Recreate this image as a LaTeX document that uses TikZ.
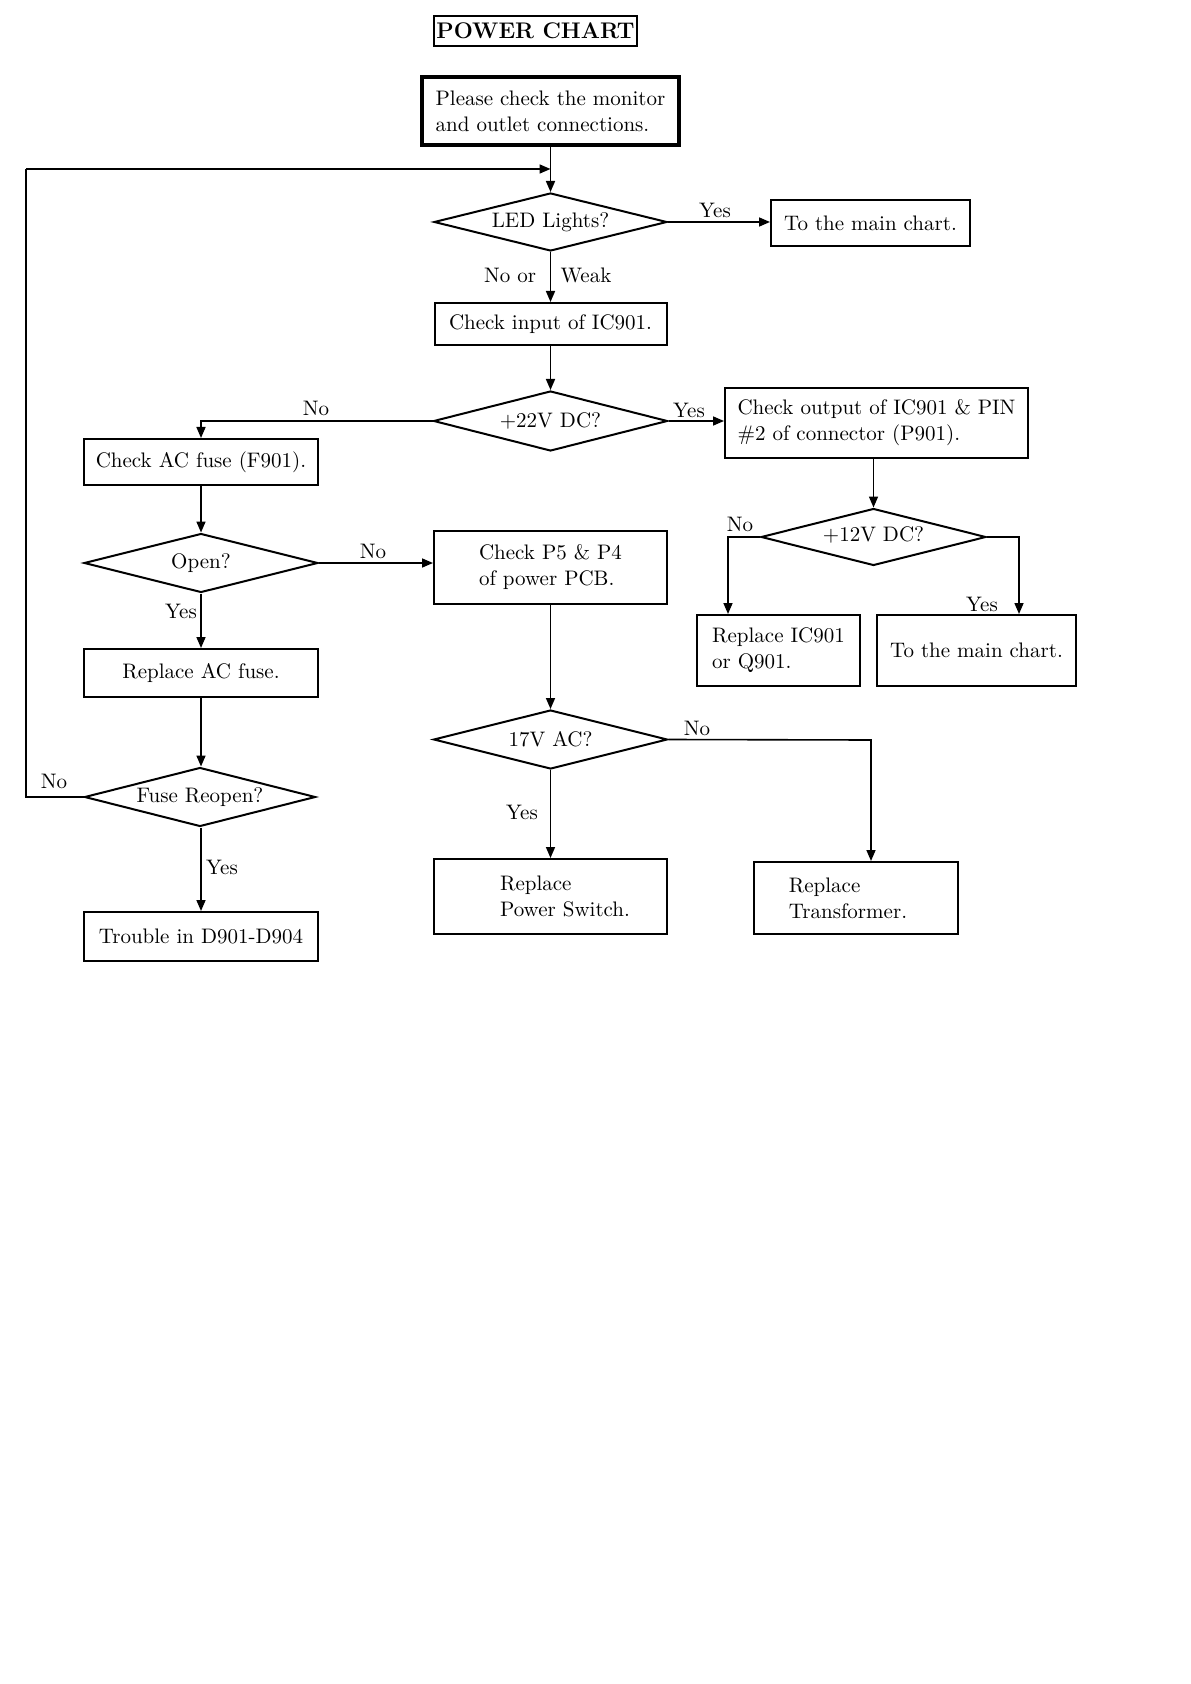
\documentclass[tikz,border=0pt]{standalone}
\usetikzlibrary{shapes.geometric,arrows.meta}
\begin{document}
\begin{tikzpicture}[x=0.5pt,y=-0.5pt,
  every node/.style={font=\fontsize{10.5}{13}\selectfont},
  box/.style={draw, line width=1pt, inner sep=0pt, align=left},
  dia/.style={draw, diamond, line width=1pt, inner sep=0pt, aspect=4},
  lbl/.style={inner sep=0pt},
  arr/.style={line width=0.8pt, -{Triangle[length=5.5pt,width=4.5pt]}},
  ln/.style={line width=0.8pt}]
\useasboundingbox (0,0) rectangle (1190,1684);

\node[draw, line width=0.8pt, minimum width=101.5pt, minimum height=15pt, inner sep=1pt,
  font=\fontsize{11.3}{13}\selectfont\bfseries] (title) at (535.5,31) {POWER CHART};

\node[box, line width=1.6pt, minimum width=128.5pt, minimum height=34pt] (top) at (550.5,111)
  {Please check the monitor\\and outlet connections.};
\node[dia, minimum width=116.5pt, minimum height=29pt] (led) at (550.5,222) {LED Lights?};
\node[box, minimum width=99.5pt, minimum height=23pt] (main1) at (870.5,223) {To the main chart.};
\node[box, minimum width=116pt, minimum height=21pt] (input) at (550.5,324) {Check input of IC901.};
\node[dia, minimum width=117pt, minimum height=30pt] (dc22) at (550.5,421) {+22V DC?};
\node[box, minimum width=117pt, minimum height=23pt] (acfuse) at (201,462) {Check AC fuse (F901).};
\node[box, minimum width=151.5pt, minimum height=35pt] (output) at (876.5,423)
  {Check output of IC901 \& PIN\\\#2 of connector (P901).};
\node[dia, minimum width=112.5pt, minimum height=28.5pt] (dc12) at (873.5,537) {\raisebox{3pt}{+12V DC?}};
\node[box, minimum width=81.5pt, minimum height=35.5pt] (ic901) at (778.5,650.5) {Replace IC901\\or Q901.};
\node[box, minimum width=99.5pt, minimum height=35.5pt] (main2) at (976.5,650.5) {To the main chart.};
\node[dia, minimum width=117pt, minimum height=29.5pt] (open) at (201,563) {Open?};
\node[box, minimum width=116.5pt, minimum height=36.5pt] (p5) at (550.5,567.5) {Check P5 \& P4\\of power PCB.};
\node[box, minimum width=117pt, minimum height=24pt] (repfuse) at (201,673) {Replace AC fuse.};
\node[dia, minimum width=115.5pt, minimum height=29.5pt] (reopen) at (200,797) {Fuse Reopen?};
\node[box, minimum width=117pt, minimum height=24.5pt] (trouble) at (201,936.5) {Trouble in D901-D904};
\node[dia, minimum width=117pt, minimum height=29.5pt] (ac17) at (550.5,739.5) {17V AC?};
\node[box, minimum width=116.5pt, minimum height=37.5pt] (pswitch) at (550.5,896.5) {};
\node[lbl, align=left] (pswitcht) at (565,896.5) {Replace\\Power Switch.};
\node[box, minimum width=102pt, minimum height=36pt] (transf) at (856,898) {};
\node[lbl, align=left] (transft) at (848,898) {Replace\\Transformer.};

% labels
\node[lbl] (l1) at (715,210) {Yes};
\node[lbl] (l2) at (510,275) {No or};
\node[lbl] (l3) at (586,275) {Weak};
\node[lbl] (l4) at (316,408) {No};
\node[lbl] (l5) at (689,410) {Yes};
\node[lbl] (l6) at (740,524) {No};
\node[lbl] (l7) at (982,604) {Yes};
\node[lbl] (l8) at (373,551) {No};
\node[lbl] (l9) at (181,611) {Yes};
\node[lbl] (l10) at (54,781) {No};
\node[lbl] (l11) at (222,867) {Yes};
\node[lbl] (l12) at (697,728) {No};
\node[lbl] (l13) at (522,812) {Yes};

% coordinates
\coordinate (loopL) at (26,797);
\coordinate (loopT) at (26,169);
\coordinate (loopE) at (550.5,169);
\coordinate (c22l) at (201,421);
\coordinate (c12l) at (728,537);
\coordinate (c12r) at (1019,537);
\coordinate (c17r) at (871,740);

% connectors
\draw[arr] (top.south) -- (led.north);
\draw[ln] (reopen.west) -- (loopL) -- (loopT);
\draw[arr] (loopT) -- (loopE);
\draw[arr] (led.east) -- (led.east -| main1.west);
\draw[arr] (led.south) -- (input.north);
\draw[arr] (input.south) -- (dc22.north);
\draw[arr] (dc22.west) -- (c22l) -- (acfuse.north);
\draw[arr] (dc22.east) -- (dc22.east -| output.west);
\draw[arr] (output.south -| dc12.north) -- (dc12.north);
\draw[arr] (dc12.west) -- (c12l) -- (c12l |- ic901.north);
\draw[arr] (dc12.east) -- (c12r) -- (c12r |- main2.north);
\draw[arr] (acfuse.south) -- (open.north);
\draw[arr] (open.east) -- (open.east -| p5.west);
\draw[arr] (open.south) -- (repfuse.north);
\draw[arr] (repfuse.south) -- (reopen.north -| repfuse.south);
\draw[arr] (reopen.south -| trouble.north) -- (trouble.north);
\draw[arr] (p5.south) -- (ac17.north);
\draw[arr] (ac17.south) -- (pswitch.north);
\draw[arr] (ac17.east) -- (c17r) -- (c17r |- transf.north);
\end{tikzpicture}
\end{document}
